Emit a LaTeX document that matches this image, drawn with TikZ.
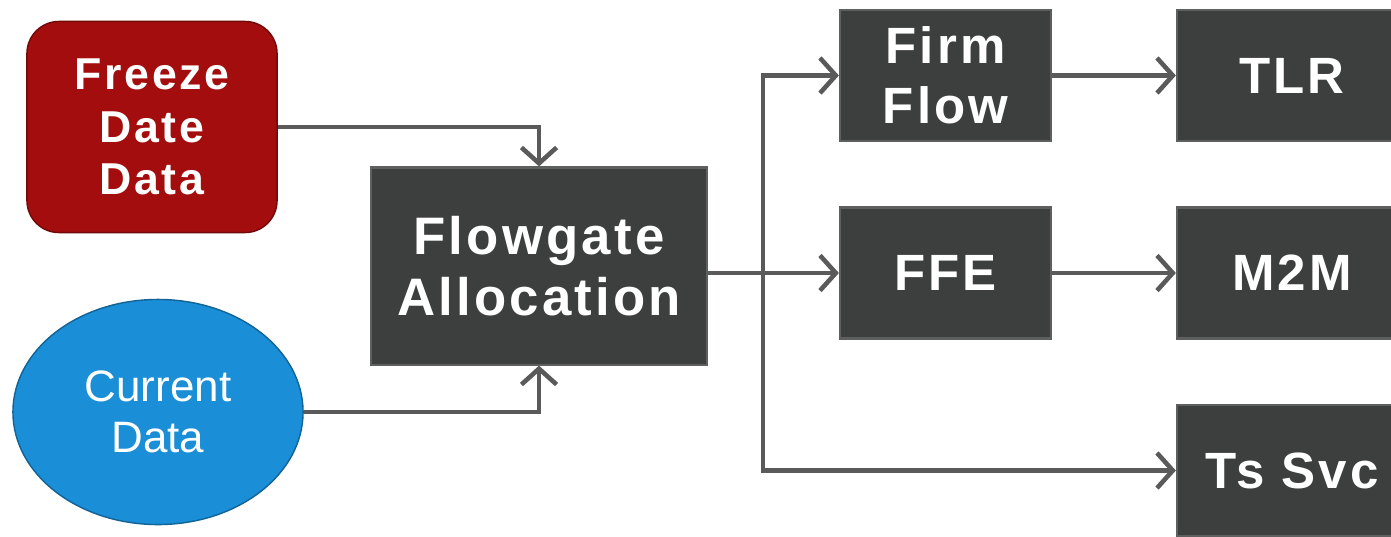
\documentclass[tikz,border=0pt]{standalone}
\usepackage{fontspec}
\setmainfont{Liberation Sans}
\newfontfamily\widefont[LetterSpace=6]{Liberation Sans}
\usetikzlibrary{arrows.meta,shapes.geometric}
\definecolor{freezered}{HTML}{A30D0D}
\definecolor{currentblue}{HTML}{1A8ED6}
\definecolor{boxgray}{HTML}{3D3E3E}
\definecolor{boxedge}{HTML}{5E5F5F}
\definecolor{linkgray}{HTML}{5A5A5A}

\begin{document}
\begin{tikzpicture}
  [x=0.01cm,y=-0.01cm,
   every node/.style={text=white,align=center,inner sep=0pt},
   freeze/.style={rectangle,rounded corners=0.32cm,fill=freezered,draw=freezered!70!black,
     minimum width=2.5cm,minimum height=2.11cm,font=\widefont\bfseries\fontsize{12.7}{15}\selectfont},
   current/.style={ellipse,fill=currentblue,draw=currentblue!70!black,
     minimum width=2.9cm,minimum height=2.25cm,font=\fontsize{12.5}{14.5}\selectfont},
   box/.style={rectangle,fill=boxgray,draw=boxedge,line width=0.6pt,
     minimum width=2.11cm,minimum height=1.31cm,font=\widefont\bfseries\fontsize{14.5}{17}\selectfont},
   link/.style={draw=linkgray,line width=1.3pt,-{Straight Barb[length=4.5pt,width=10pt]}}]
  \clip (0,0) rectangle (1391,536);
  \node[freeze] (freeze) at (152,127) {Freeze\\Date\\Data};
  \node[current] (current) at (158,412) {Current\\Data};
  \node[box,minimum width=3.36cm,minimum height=1.97cm,
    font=\widefont\bfseries\fontsize{15}{17.4}\selectfont] (alloc) at (539,266) {Flowgate\\Allocation};
  \node[box] (firm) at (945.5,75.5) {Firm\\Flow};
  \node[box] (ffe) at (945.5,273) {FFE};
  \node[box,minimum width=2.3cm] (tlr) at (1292,75.5) {TLR};
  \node[box,minimum width=2.3cm] (mm) at (1292,273) {M2M};
  \node[box,minimum width=2.3cm] (ts) at (1292,470.5) {Ts Svc};
  \coordinate (bus) at (763,273);
  \draw[link] (freeze.east) -| (alloc.north);
  \draw[link] (current.east) -| (alloc.south);
  \draw[link] (alloc.east |- ffe) -- (ffe);
  \draw[link] (bus) |- (firm);
  \draw[link] (bus) |- (ts);
  \foreach \from/\to in {firm/tlr,ffe/mm}
    \draw[link] (\from) -- (\to);
\end{tikzpicture}
\end{document}
